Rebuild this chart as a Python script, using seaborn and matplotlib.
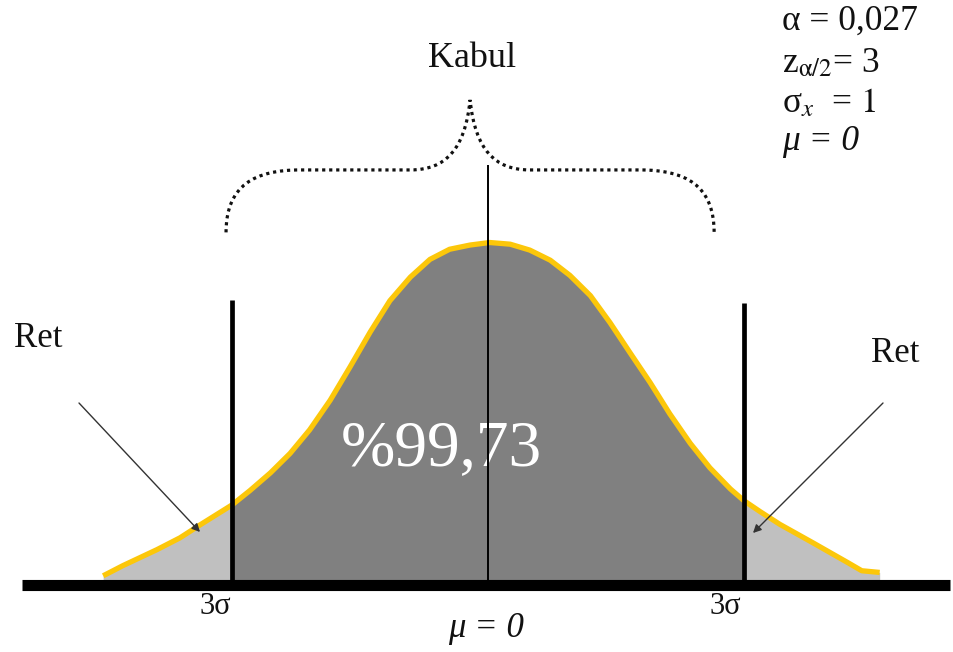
import numpy as np
import pandas as pd
import seaborn as sns
import matplotlib.pyplot as plt
from matplotlib.patches import Rectangle, PathPatch
from matplotlib.path import Path

# Standardised positions (z, in sigma units) and heights of the bell curve
z_values = [-4.51, -4.28, -3.88, -3.61, -3.38, -3.00, -2.79, -2.55, -2.32,
            -2.09, -1.85, -1.62, -1.38, -1.15, -0.91, -0.68, -0.45, -0.21,
            0.02, 0.26, 0.49, 0.73, 0.96, 1.20, 1.43, 1.66, 1.90, 2.13,
            2.37, 2.60, 2.84, 3.00, 3.19, 3.42, 3.81, 4.21, 4.38, 4.59]
heights = [0.005, 0.017, 0.036, 0.050, 0.065, 0.089, 0.106, 0.127, 0.150,
           0.178, 0.213, 0.252, 0.294, 0.331, 0.359, 0.380, 0.392, 0.397,
           0.400, 0.398, 0.391, 0.379, 0.361, 0.337, 0.305, 0.270, 0.234,
           0.197, 0.162, 0.133, 0.108, 0.094, 0.081, 0.066, 0.044, 0.021,
           0.011, 0.009]

critical_z = 3
accept_label = "Kabul"
reject_label = "Ret"
accept_share = "%99,73"
limit_label = "3σ"
mean_label = "μ = 0"
param_lines = ["α = 0,027", r"z$_{\mathrm{α/2}}$= 3", r"σ$_{x}$  = $\mathit{1}$", "μ = 0"]

df = pd.DataFrame({"z": z_values, "h": heights})

sns.set_theme(style="white")
plt.rcParams["font.family"] = ["Liberation Serif", "DejaVu Serif"]
plt.rcParams["mathtext.fontset"] = "stix"

W, H = 954, 652
fig = plt.figure(figsize=(W / 100, H / 100), dpi=100)
ax = fig.add_axes([0, 0, 1, 1])
ax.set_xlim(-5.719, 5.461)
ax.set_ylim(-0.0853, 0.6874)
ax.axis("off")

yellow = "#FCC70A"
dark = "#808080"
light = "#C0C0C0"

# tails (rejection region) and the central acceptance region
ax.fill_between(df["z"], df["h"], 0, color=light, lw=0, zorder=1)
mid = ax.fill_between(df["z"], df["h"], 0, color=dark, lw=0, zorder=1.1)
mid.set_clip_path(Rectangle((-critical_z, -1), 2 * critical_z, 2,
                            transform=ax.transData))

sns.lineplot(data=df, x="z", y="h", color=yellow, lw=3.8, ax=ax,
             sort=True, zorder=2, solid_capstyle="butt",
             solid_joinstyle="round")

# critical limits and the mean
ax.plot([-critical_z, -critical_z], [0, 0.332], color="black", lw=3.4,
        solid_capstyle="butt", zorder=3)
ax.plot([critical_z, critical_z], [0, 0.328], color="black", lw=3.4,
        solid_capstyle="butt", zorder=3)
ax.plot([0, 0], [0, 0.492], color="black", lw=1.4,
        solid_capstyle="butt", zorder=4)

# horizontal axis bar
ax.plot([-5.46, 5.41], [-0.0064, -0.0064], color="black", lw=8.0,
        solid_capstyle="butt", zorder=3)

# dotted curly brace over the acceptance region
cx = -0.21
verts = [(cx - 2.86, 0.412), (cx - 2.86, 0.468), (cx - 2.52, 0.486), (cx - 1.99, 0.486),
         (cx - 0.70, 0.486),
         (cx - 0.29, 0.486), (cx - 0.06, 0.510), (cx, 0.569),
         (cx + 0.06, 0.510), (cx + 0.29, 0.486), (cx + 0.70, 0.486),
         (cx + 1.99, 0.486),
         (cx + 2.52, 0.486), (cx + 2.86, 0.468), (cx + 2.86, 0.412)]
codes = [Path.MOVETO, Path.CURVE4, Path.CURVE4, Path.CURVE4,
         Path.LINETO,
         Path.CURVE4, Path.CURVE4, Path.CURVE4,
         Path.CURVE4, Path.CURVE4, Path.CURVE4,
         Path.LINETO,
         Path.CURVE4, Path.CURVE4, Path.CURVE4]
brace = PathPatch(Path(verts, codes), fill=False, edgecolor="#111111",
                  lw=2.3, linestyle=(0, (1, 1.2)), zorder=3)
ax.add_patch(brace)


def fx(px):
    return px / W


def fy(py):
    return 1 - py / H


tr = ax.transAxes
ax.text(fx(472), fy(67), accept_label, fontsize=26, ha="center", va="baseline",
        transform=tr, color="#111111")
ax.text(fx(441), fy(465), accept_share, fontsize=47, ha="center", va="baseline",
        transform=tr, color="white", zorder=3.5)
ax.text(fx(14), fy(347), reject_label, fontsize=25, ha="left", va="baseline",
        transform=tr, color="#111111")
ax.text(fx(871), fy(362), reject_label, fontsize=25, ha="left", va="baseline",
        transform=tr, color="#111111")
ax.text(fx(215), fy(614), limit_label, fontsize=22, ha="center", va="baseline",
        transform=tr, color="#111111")
ax.text(fx(725), fy(614), limit_label, fontsize=22, ha="center", va="baseline",
        transform=tr, color="#111111")
ax.text(fx(486), fy(637), mean_label, fontsize=25, ha="center", va="baseline",
        transform=tr, color="#111111", style="italic")

# parameter block, top right
baselines = [30, 72, 112, 150]
for i, (line, b) in enumerate(zip(param_lines, baselines)):
    ax.text(fx(782), fy(b), line, fontsize=25.5, ha="left", va="baseline",
            transform=tr, color="#111111",
            style="italic" if i == 3 else "normal")

# arrows pointing into the rejection tails
arrow = dict(arrowstyle="-|>", color="#333333", lw=1.0, mutation_scale=12,
             shrinkA=0, shrinkB=0)
ax.annotate("", xy=(fx(200), fy(532)), xytext=(fx(79), fy(403)),
            xycoords=tr, textcoords=tr, arrowprops=arrow, zorder=5)
ax.annotate("", xy=(fx(753), fy(533)), xytext=(fx(883), fy(403)),
            xycoords=tr, textcoords=tr, arrowprops=arrow, zorder=5)

fig.savefig("out.png", dpi=100, facecolor="white")
